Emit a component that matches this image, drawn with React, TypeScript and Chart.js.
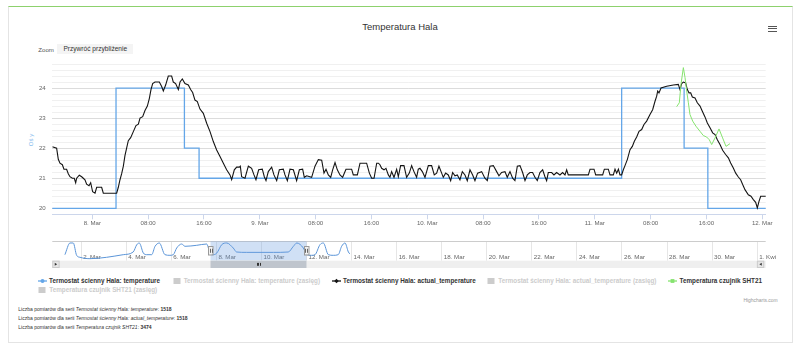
import React, { useEffect, useRef } from 'react';
import { Chart, registerables } from 'chart.js';

Chart.register(...registerables);

const FONT = '"Liberation Sans", Arial, sans-serif';
const BLUE = '#64a6e8';
const BLACK = '#141414';
const GREEN = '#86e36f';
const NAV_BLUE = '#5b95d8';

// ---- main view: hours relative to 8 Mar 00:00 ----
const X_MIN = -5.73;
const X_MAX = 96.49;
const X_TICKS = [0, 8, 16, 24, 32, 40, 48, 56, 64, 72, 80, 88, 96];
const X_TICK_LABELS = ['8. Mar', '08:00', '16:00', '9. Mar', '08:00', '16:00', '10. Mar', '08:00', '16:00', '11. Mar', '08:00', '16:00', '12. Mar'];
const Y_MIN = 19.8;
const Y_MAX = 24.8;
const Y_MINOR_STEP = 0.2;
const Y_LABELS = [20, 21, 22, 23, 24];
const Y_TITLE = 'Oś y';

// Termostat ścienny Hala: temperature (set point, step line)
const SET_T = [-8, 3.4, 13.2, 15.3, 75.85, 84.8, 88.2, 100];
const SET_V = [20, 24, 22, 21, 24, 22, 20, 20];

// Termostat ścienny Hala: actual_temperature
const ACT_T = [
  -5.73, -5.11, -4.87, -4.63, -4.29, -4.06, -3.68, -3.44, -3.2, -2.86, -2.58, -2.38, -2.24, -1.86, -1.52, -1.29, -1.05, -0.81, -0.47, -0.23, -0.09,
  0.05, 0.39, 0.63, 1.34, 1.58, 3.49, 3.73, 3.97, 4.21, 4.45, 4.68, 4.92, 5.16, 5.5, 5.88, 6.26, 6.6, 6.84, 7.22, 7.55, 7.89, 8.17, 8.41, 8.65, 8.98,
  9.61, 9.94, 10.18, 10.51, 10.89, 11.37, 11.61, 11.94, 12.33, 12.57, 12.9, 13.28, 13.76, 14.09, 14.38, 14.71, 15.05, 15.43, 15.91, 16.39, 16.87,
  17.34, 17.82, 18.3, 18.78, 19.25, 19.73, 19.97, 20.35, 20.69, 21.07, 21.21, 21.4, 21.88, 22.36, 22.83, 23.17, 23.45, 23.84, 24.36, 24.65, 24.89,
  25.22, 25.7, 26.03, 26.42, 26.8, 27.37, 27.61, 27.95, 28.33, 28.81, 29.28, 29.67, 30.14, 30.38, 30.72, 31.43, 31.91, 32.39, 32.87, 33.2, 33.49,
  33.82, 34.16, 34.44, 34.78, 35.11, 35.49, 35.87, 36.35, 37.16, 37.4, 37.98, 38.36, 39.31, 39.7, 40.03, 40.37, 40.75, 41.0, 41.22, 41.46, 41.8,
  42.08, 42.42, 42.65, 42.89, 43.23, 43.61, 43.85, 44.18, 44.66, 45.04, 45.42, 45.76, 46.09, 46.47, 46.71, 46.95, 47.29, 47.67, 48.15, 48.62, 49.0,
  49.34, 49.67, 50.06, 50.29, 50.63, 51.01, 51.35, 51.63, 51.97, 52.3, 52.68, 53.02, 53.4, 53.73, 54.12, 54.5, 54.83, 55.21, 55.79, 56.26, 56.6,
  56.98, 57.46, 57.94, 58.27, 58.65, 59.13, 59.46, 59.85, 60.23, 60.56, 60.9, 61.28, 61.66, 62.0, 62.33, 62.71, 63.09, 63.43, 63.76, 64.14, 64.53,
  64.86, 65.1, 65.34, 65.82, 66.15, 66.53, 67.01, 67.39, 67.73, 67.97, 68.2, 68.45, 71.08, 71.32, 71.89, 72.13, 73.13, 73.37, 73.94, 74.18, 74.66,
  74.9, 75.14, 75.38, 75.61, 75.85, 76.09, 76.33, 76.66, 77.05, 77.38, 77.67, 78.0, 78.34, 78.72, 79.05, 79.43, 79.91, 80.29, 80.63, 80.87, 81.01,
  81.2, 81.49, 82.3, 83.26, 83.97, 84.21, 84.45, 84.69, 85.02, 85.26, 85.5, 85.74, 85.98, 86.36, 86.69, 87.08, 87.41, 87.79, 88.13, 88.51, 88.89,
  89.23, 89.56, 89.94, 90.32, 90.75, 91.14, 91.47, 91.85, 92.19, 92.57, 92.9, 93.19, 93.52, 94.0, 94.38, 94.72, 95.05, 95.29, 95.53, 95.77, 96.63,
];
const ACT_V = [
  22.05, 22.0, 21.63, 21.5, 21.45, 21.3, 21.3, 21.15, 21.05, 21.0, 21.0, 20.85, 21.0, 21.1, 21.05, 21.0, 20.95, 20.8, 20.75, 20.85, 20.7,
  20.55, 20.5, 20.7, 20.7, 20.5, 20.5, 20.7, 20.95, 21.15, 21.4, 21.75, 22.0, 22.25, 22.35, 22.55, 22.75, 22.8, 23.0, 23.05, 23.25, 23.4, 23.65, 23.95, 24.15, 24.2,
  24.2, 24.05, 23.9, 24.1, 24.4, 24.4, 24.2, 24.15, 23.95, 24.2, 24.3, 24.15, 24.1, 23.95, 23.85, 23.6, 23.55, 23.3, 23.16, 22.83, 22.55,
  22.22, 21.94, 21.72, 21.5, 21.28, 21.11, 20.95, 21.28, 21.37, 21.37, 21.4, 21.05, 21.0, 21.4, 21.33, 21.11, 20.95, 21.28, 21.3, 21.05, 20.92,
  21.22, 21.37, 21.11, 20.92, 21.28, 21.3, 21.11, 20.92, 21.3, 21.28, 20.92, 21.28, 21.3, 21.03, 21.08, 21.03, 21.4, 21.62, 21.6, 21.17, 21.3,
  21.11, 21.03, 21.28, 21.52, 21.28, 21.11, 21.03, 21.3, 21.3, 21.11, 21.11, 21.5, 21.5, 21.17, 21.0, 21.0, 21.5, 21.5, 21.45, 21.33, 21.28,
  21.33, 21.11, 21.03, 21.22, 21.03, 21.3, 21.05, 21.42, 21.42, 21.03, 21.17, 21.42, 21.22, 21.03, 21.3, 21.33, 21.22, 21.03, 21.42, 21.42, 21.11,
  21.17, 21.4, 21.17, 21.03, 21.17, 21.11, 20.92, 21.19, 21.08, 21.11, 20.95, 21.22, 21.11, 20.92, 21.28, 21.11, 20.92, 21.17, 21.22, 21.0, 20.92,
  21.4, 21.42, 21.22, 21.08, 21.19, 21.22, 21.03, 21.22, 21.0, 20.92, 21.4, 21.42, 21.19, 20.92, 21.11, 21.19, 21.19, 21.03, 20.92, 21.19, 21.28,
  21.05, 20.92, 21.19, 21.19, 21.11, 21.19, 21.11, 21.19, 21.11, 21.28, 21.11, 21.11, 21.11, 21.3, 21.3, 21.11, 21.11, 21.3, 21.3, 21.11, 21.11,
  21.3, 21.17, 21.3, 21.11, 21.11, 21.28, 21.42, 21.62, 21.95, 22.06, 22.23, 22.37, 22.56, 22.62, 22.79, 22.9, 23.12, 23.28, 23.56, 23.73, 23.9,
  23.84, 24.0, 24.06, 24.1, 24.12, 23.95, 24.15, 24.2, 24.17, 23.95, 23.84, 23.84, 23.7, 23.67, 23.51, 23.4, 23.23, 23.04, 22.84, 22.68, 22.51,
  22.45, 22.28, 22.12, 21.93, 21.79, 21.68, 21.51, 21.34, 21.17, 21.04, 20.95, 20.79, 20.62, 20.45, 20.4, 20.29, 20.2, 20.01, 20.23, 20.4, 20.4,
];

// Temperatura czujnik SHT21
const SHT_T = [83.73, 84.11, 84.35, 84.69, 84.93, 85.17, 85.41, 85.64, 86.03, 86.5, 87.08, 87.55, 88.03, 88.41, 88.75, 89.23, 89.8, 90.32, 90.8, 91.37];
const SHT_V = [23.38, 23.51, 24.12, 24.68, 24.35, 23.9, 23.51, 23.12, 22.9, 22.73, 22.56, 22.42, 22.37, 22.28, 22.12, 22.34, 22.64, 22.34, 22.06, 22.15];

// ---- navigator: days relative to 1 Mar 00:00 ----
const NAV_MIN = -0.26;
const NAV_MAX = 31.4;
const NAV_Y_MIN = 19.9;
const NAV_Y_MAX = 24.7;
const NAV_TICKS = [1, 3, 5, 7, 9, 11, 13, 15, 17, 19, 21, 23, 25, 27, 29, 31];
const NAV_LABELS = ['2. Mar', '4. Mar', '6. Mar', '8. Mar', '10. Mar', '12. Mar', '14. Mar', '16. Mar', '18. Mar', '20. Mar', '22. Mar', '24. Mar', '26. Mar', '28. Mar', '30. Mar', '1. Kwi'];
const VIEW_ORIGIN_DAY = 7; // 8 Mar 00:00
const NAV_T = [0.3, 0.525, 0.67, 0.82, 0.97, 1.41, 2.15, 2.89, 3.33, 3.49, 3.6, 3.78, 3.93, 4.15, 4.3, 4.49, 4.74, 4.96, 5.11, 5.26, 5.48, 5.63, 6.15, 6.59, 6.74, 6.89, 7.04, 7.26, 7.48, 7.77, 7.92, 8.37, 9.55, 10.21, 10.44, 10.59, 10.88, 11.03, 11.25, 11.4, 11.62, 11.77, 11.99, 12.21, 12.43, 12.58, 12.73, 12.88, 12.95];
const NAV_V = [21.39, 24.28, 24.28, 21.23, 20.74, 20.4, 20.74, 21.39, 22.05, 23.87, 24.28, 21.8, 21.39, 21.39, 23.46, 24.28, 21.39, 21.23, 21.39, 23.04, 24.03, 23.46, 23.71, 24.03, 21.8, 21.39, 21.8, 23.87, 24.28, 23.04, 22.05, 21.96, 21.96, 22.05, 23.46, 24.28, 23.04, 21.39, 21.23, 21.39, 23.87, 24.28, 21.39, 21.23, 21.39, 23.46, 24.28, 22.05, 21.55];

// ---- texts ----
const TITLE = 'Temperatura Hala';
const ZOOM_LABEL = 'Zoom';
const RESET_LABEL = 'Przywróć przybliżenie';
const CREDIT = 'Highcharts.com';
const LEGEND_LABELS = [
  'Termostat ścienny Hala: temperature',
  'Termostat ścienny Hala: temperature (zasięg)',
  'Termostat ścienny Hala: actual_temperature',
  'Termostat ścienny Hala: actual_temperature (zasięg)',
  'Temperatura czujnik SHT21',
  'Temperatura czujnik SHT21 (zasięg)',
];
const LEGEND_COLORS = [BLUE, '#cccccc', BLACK, '#cccccc', GREEN, '#cccccc'];
const LEGEND_KINDS = ['circle', 'box', 'diamond', 'box', 'square', 'box'];
const LEGEND_HIDDEN = [false, true, false, true, false, true];
const COUNT_SERIES = ['Termostat ścienny Hala: temperature', 'Termostat ścienny Hala: actual_temperature', 'Temperatura czujnik SHT21'];
const COUNT_VALUES = [1518, 1518, 3474];

// layout of legend items (left of marker, row center y)
const LEGEND_POS = [
  [37.5, 280.7], [172.7, 280.7], [331.5, 280.7], [487.3, 280.7], [668, 280.7], [38.3, 290],
];

const zip = (t: number[], v: number[]) => t.map((x, i) => ({ x, y: v[i] }));
const isInt = (v: number) => Math.abs(v - Math.round(v)) < 1e-6;

const navigatorPlugin = {
  id: 'navDecor',
  beforeDatasetsDraw(chart: any) {
    const { ctx, chartArea: a, scales } = chart;
    const x = scales.x;
    ctx.save();
    ctx.strokeStyle = '#e6e6e6';
    ctx.lineWidth = 1;
    NAV_TICKS.forEach((v) => {
      const px = Math.round(x.getPixelForValue(v)) + 0.5;
      ctx.beginPath();
      ctx.moveTo(px, a.top);
      ctx.lineTo(px, a.bottom);
      ctx.stroke();
    });
    ctx.fillStyle = '#666';
    ctx.font = `6.2px ${FONT}`;
    ctx.textAlign = 'left';
    ctx.textBaseline = 'middle';
    NAV_TICKS.forEach((v, i) => {
      ctx.fillText(NAV_LABELS[i], x.getPixelForValue(v) + 2.5, a.bottom - 3.7);
    });
    ctx.restore();
  },
  afterDatasetsDraw(chart: any) {
    const { ctx, chartArea: a, scales } = chart;
    const x = scales.x;
    const l = x.getPixelForValue(VIEW_ORIGIN_DAY + X_MIN / 24);
    const r = x.getPixelForValue(VIEW_ORIGIN_DAY + X_MAX / 24);
    ctx.save();
    // top outline
    ctx.strokeStyle = '#cccccc';
    ctx.lineWidth = 1;
    ctx.beginPath();
    ctx.moveTo(a.left, Math.round(a.top) + 0.5);
    ctx.lineTo(a.right, Math.round(a.top) + 0.5);
    ctx.stroke();
    // mask
    ctx.fillStyle = 'rgba(110,160,225,0.32)';
    ctx.fillRect(l, a.top, r - l, a.bottom - a.top);
    // scrollbar track
    const sTop = a.bottom;
    const sH = 7.3;
    ctx.fillStyle = '#efefef';
    ctx.fillRect(a.left, sTop, a.right - a.left, sH);
    // buttons
    const drawBtn = (bx: number, dir: number) => {
      ctx.fillStyle = '#e6e6e6';
      ctx.fillRect(bx, sTop, sH, sH);
      ctx.strokeStyle = '#cccccc';
      ctx.strokeRect(bx + 0.5, sTop + 0.5, sH - 1, sH - 1);
      ctx.fillStyle = '#333';
      const cx = bx + sH / 2;
      const cy = sTop + sH / 2;
      ctx.beginPath();
      ctx.moveTo(cx - dir * 1.2, cy);
      ctx.lineTo(cx + dir * 1.2, cy - 1.5);
      ctx.lineTo(cx + dir * 1.2, cy + 1.5);
      ctx.closePath();
      ctx.fill();
    };
    drawBtn(a.left, -1);
    drawBtn(a.right - sH - 1.5, 1);
    // thumb
    ctx.fillStyle = '#bfc5cd';
    ctx.fillRect(l, sTop, r - l, sH);
    ctx.strokeStyle = '#333';
    const mid = (l + r) / 2;
    [-1.5, 0, 1.5].forEach((d) => {
      ctx.beginPath();
      ctx.moveTo(Math.round(mid + d) + 0.5, sTop + 2.2);
      ctx.lineTo(Math.round(mid + d) + 0.5, sTop + sH - 2.2);
      ctx.stroke();
    });
    // handles
    const drawHandle = (hx: number) => {
      const w = 4.5;
      const h = 8.5;
      const y0 = a.top + 5;
      ctx.fillStyle = '#f2f2f2';
      ctx.strokeStyle = '#999999';
      ctx.fillRect(hx - w / 2, y0, w, h);
      ctx.strokeRect(Math.round(hx - w / 2) + 0.5, Math.round(y0) + 0.5, w, h);
      ctx.strokeStyle = '#666';
      ctx.beginPath();
      ctx.moveTo(Math.round(hx) - 0.5, y0 + 2.5);
      ctx.lineTo(Math.round(hx) - 0.5, y0 + h - 2);
      ctx.moveTo(Math.round(hx) + 1.5, y0 + 2.5);
      ctx.lineTo(Math.round(hx) + 1.5, y0 + h - 2);
      ctx.stroke();
    };
    drawHandle(l);
    drawHandle(r);
    ctx.restore();
  },
};

function LegendMarker({ kind, color }: { kind: string; color: string }) {
  if (kind === 'box') {
    return (
      <svg width={8} height={8} style={{ display: 'block' }}>
        <rect x={0.5} y={1} width={7} height={6} fill={color} />
      </svg>
    );
  }
  return (
    <svg width={9} height={8} style={{ display: 'block' }}>
      <line x1={0} y1={4} x2={9} y2={4} stroke={color} strokeWidth={1.3} />
      {kind === 'circle' && <circle cx={4.5} cy={4} r={2} fill={color} />}
      {kind === 'diamond' && <path d="M4.5 1.8 L6.7 4 L4.5 6.2 L2.3 4 Z" fill={color} />}
      {kind === 'square' && <rect x={2.6} y={2.1} width={3.8} height={3.8} fill={color} />}
    </svg>
  );
}

export default function App() {
  const mainRef = useRef<HTMLCanvasElement | null>(null);
  const navRef = useRef<HTMLCanvasElement | null>(null);

  useEffect(() => {
    const main = new Chart(mainRef.current as HTMLCanvasElement, {
      type: 'line',
      data: {
        datasets: [
          { label: LEGEND_LABELS[4], data: zip(SHT_T, SHT_V), borderColor: GREEN, borderWidth: 1, pointRadius: 0, tension: 0 },
          { label: LEGEND_LABELS[2], data: zip(ACT_T, ACT_V), borderColor: BLACK, borderWidth: 1.1, pointRadius: 0, tension: 0 },
          { label: LEGEND_LABELS[0], data: zip(SET_T, SET_V), borderColor: BLUE, borderWidth: 1.3, pointRadius: 0, stepped: 'before' },
        ],
      },
      options: {
        animation: false,
        responsive: false,
        devicePixelRatio: 1,
        events: [],
        layout: { padding: { top: 8, right: 34.3, left: 0, bottom: 0 } },
        plugins: { legend: { display: false }, tooltip: { enabled: false } },
        scales: {
          x: {
            type: 'linear',
            min: X_MIN,
            max: X_MAX,
            afterBuildTicks: (s: any) => {
              s.ticks = X_TICKS.map((v) => ({ value: v }));
            },
            afterFit: (s: any) => {
              s.height = 21.7;
              s.paddingLeft = 0;
              s.paddingRight = 0;
            },
            ticks: {
              autoSkip: false,
              maxRotation: 0,
              padding: 0,
              color: '#666',
              font: { family: FONT, size: 6.1 },
              callback: (_v: any, i: number) => X_TICK_LABELS[i],
            },
            grid: { drawOnChartArea: false, drawTicks: true, tickLength: 5, color: '#ccd6eb' },
            border: { display: true, color: '#ccd6eb' },
          },
          y: {
            type: 'linear',
            min: Y_MIN,
            max: Y_MAX,
            afterBuildTicks: (s: any) => {
              const t: { value: number }[] = [];
              for (let v = Y_MIN; v <= Y_MAX + 1e-6; v += Y_MINOR_STEP) t.push({ value: Math.round(v * 10) / 10 });
              s.ticks = t;
            },
            afterFit: (s: any) => {
              s.width = 52.3;
              s.paddingTop = 0;
              s.paddingBottom = 0;
            },
            ticks: {
              autoSkip: false,
              padding: 6.6,
              color: '#666',
              font: { family: FONT, size: 6.1 },
              callback: (v: any) => (isInt(v) && Y_LABELS.includes(Math.round(v)) ? String(Math.round(v)) : ''),
            },
            grid: {
              drawTicks: false,
              lineWidth: 1,
              color: (c: any) => (c.tick && isInt(c.tick.value) ? '#dcdcdc' : '#f0f0f0'),
            },
            border: { display: false },
          },
        },
      },
    } as any);

    const nav = new Chart(navRef.current as HTMLCanvasElement, {
      type: 'line',
      data: {
        datasets: [
          { data: zip(NAV_T, NAV_V), borderColor: NAV_BLUE, borderWidth: 1, pointRadius: 0, cubicInterpolationMode: 'monotone' },
        ],
      },
      options: {
        animation: false,
        responsive: false,
        devicePixelRatio: 1,
        events: [],
        layout: { padding: { top: 5.3, right: 34.3, left: 52.3, bottom: 11.3 } },
        plugins: { legend: { display: false }, tooltip: { enabled: false } },
        scales: {
          x: { type: 'linear', display: false, min: NAV_MIN, max: NAV_MAX },
          y: { type: 'linear', display: false, min: NAV_Y_MIN, max: NAV_Y_MAX },
        },
      },
      plugins: [navigatorPlugin],
    } as any);

    return () => {
      main.destroy();
      nav.destroy();
    };
  }, []);

  const abs = (extra: React.CSSProperties): React.CSSProperties => ({ position: 'absolute', whiteSpace: 'nowrap', ...extra });

  return (
    <div style={{ position: 'absolute', left: 0, top: 0, width: 800, height: 351, overflow: 'hidden', background: '#fff', fontFamily: FONT }}>
      {/* card */}
      <div style={abs({ left: 8, top: 5.5, width: 785, height: 337, boxSizing: 'border-box', border: '1px solid #e4e4e4', borderTop: '1.8px solid #8dd16d' })} />
      {/* title */}
      <div style={abs({ left: 0, top: 21, width: 800, textAlign: 'center', fontSize: 9.5, lineHeight: '12px', color: '#333' })}>{TITLE}</div>
      {/* menu icon */}
      {[26.3, 28.7, 31.1].map((y, i) => (
        <div key={i} style={abs({ left: 768, top: y - 0.5, width: 8.5, height: 1.1, background: '#555' })} />
      ))}
      {/* zoom */}
      <div style={abs({ left: 38.3, top: 45.5, fontSize: 6.1, lineHeight: '8px', color: '#555' })}>{ZOOM_LABEL}</div>
      <div style={abs({ left: 57.3, top: 44.3, width: 76, height: 10, background: '#f4f4f4', fontSize: 6.6, lineHeight: '10px', textAlign: 'center', color: '#333' })}>{RESET_LABEL}</div>
      {/* y axis title */}
      <div style={abs({ left: 31, top: 139.5, transform: 'translate(-50%, -50%) rotate(-90deg)', fontSize: 6, lineHeight: '8px', color: '#7cb5ec' })}>{Y_TITLE}</div>
      {/* charts */}
      <canvas ref={mainRef} width={800} height={180} style={{ position: 'absolute', left: 0, top: 56, width: 800, height: 180 }} />
      <canvas ref={navRef} width={800} height={36} style={{ position: 'absolute', left: 0, top: 236, width: 800, height: 36 }} />
      {/* legend */}
      {LEGEND_LABELS.map((lab, i) => (
        <div key={i} style={abs({ left: LEGEND_POS[i][0], top: LEGEND_POS[i][1] - 4, height: 8, display: 'flex', alignItems: 'center' })}>
          <LegendMarker kind={LEGEND_KINDS[i]} color={LEGEND_COLORS[i]} />
          <span style={{ marginLeft: LEGEND_KINDS[i] === 'box' ? 3 : 2.5, fontSize: 6.34, lineHeight: '8px', fontWeight: 'bold', color: LEGEND_HIDDEN[i] ? '#cccccc' : '#333' }}>{lab}</span>
        </div>
      ))}
      {/* credit */}
      <div style={abs({ right: 22.3, top: 297.7, fontSize: 4.95, lineHeight: '6px', color: '#999' })}>{CREDIT}</div>
      {/* counts */}
      {COUNT_SERIES.map((s, i) => (
        <div key={i} style={abs({ left: 18.3, top: 305 + i * 9.15, fontSize: 5, lineHeight: '8px', color: '#333' })}>
          Liczba pomiarów dla serii <i>{s}</i>: <b>{COUNT_VALUES[i]}</b>
        </div>
      ))}
    </div>
  );
}
